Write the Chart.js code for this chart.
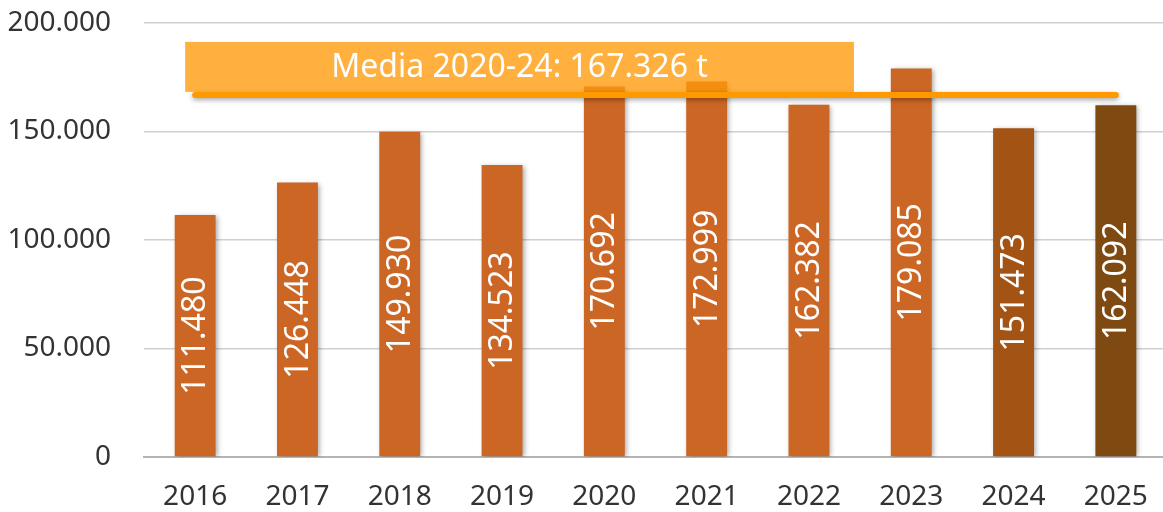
<!DOCTYPE html>
<html>
<head>
<meta charset="utf-8">
<script src="https://cdn.jsdelivr.net/npm/chart.js@4.4.1/dist/chart.umd.min.js"></script>
<style>
  html, body { margin: 0; padding: 0; background: #fff; overflow: hidden; }
  #wrap { width: 1167px; height: 512px; }
</style>
</head>
<body>
<div id="wrap"><canvas id="tons-chart"></canvas></div>
<script>
// Data
const years = ['2016', '2017', '2018', '2019', '2020', '2021', '2022', '2023', '2024', '2025'];
const tons = [111480, 126448, 149930, 134523, 170692, 172999, 162382, 179085, 151473, 162092];
const barColors = ['#CC6625', '#CC6625', '#CC6625', '#CC6625', '#CC6625',
                   '#CC6625', '#CC6625', '#CC6625', '#A35314', '#7F4A12'];
const yTicks = [0, 50000, 100000, 150000, 200000];
const average = [167326];
const averageLabel = ['Media 2020-24: 167.326 t'];

const FONT = "'Noto Sans', sans-serif";

function fmt(v) {
  return String(Math.round(v)).replace(/\B(?=(\d{3})+(?!\d))/g, '.');
}

// bar shadow + value labels
const barExtras = {
  id: 'barExtras',
  beforeDatasetsDraw(chart) {
    const ctx = chart.ctx;
    ctx.save();
    ctx.shadowColor = 'rgba(0,0,0,0.35)';
    ctx.shadowBlur = 5;
    ctx.shadowOffsetX = 2;
    ctx.shadowOffsetY = 1;
  },
  afterDatasetsDraw(chart) {
    const ctx = chart.ctx;
    ctx.restore();
    const meta = chart.getDatasetMeta(0);
    ctx.save();
    ctx.fillStyle = '#ffffff';
    ctx.font = '32px ' + FONT;
    ctx.textAlign = 'center';
    ctx.textBaseline = 'middle';
    meta.data.forEach((bar, i) => {
      const cy = (bar.y + bar.base) / 2;
      ctx.save();
      ctx.translate(bar.x, cy);
      ctx.rotate(-Math.PI / 2);
      ctx.fillText(fmt(tons[i]), 0, 1);
      ctx.restore();
    });
    ctx.restore();
  }
};

// average line with label box
const averageLine = {
  id: 'averageLine',
  afterDatasetsDraw(chart) {
    const ctx = chart.ctx;
    const x = chart.scales.x, y = chart.scales.y;
    const yy = y.getPixelForValue(average[0]) + 1;
    const x0 = x.getPixelForValue(0);
    const x1 = x.getPixelForValue(years.length - 1);

    // box
    const bx0 = x0 - 10;
    const bx1 = x.getPixelForValue(6) + 45;
    const by1 = yy - 3;
    const by0 = by1 - 50;
    ctx.save();
    ctx.fillStyle = 'rgba(255,154,9,0.78)';
    ctx.fillRect(bx0, by0, bx1 - bx0, by1 - by0);
    ctx.fillStyle = '#ffffff';
    ctx.font = '32px ' + FONT;
    ctx.textAlign = 'center';
    ctx.textBaseline = 'middle';
    ctx.fillText(averageLabel[0], (bx0 + bx1) / 2, (by0 + by1) / 2 + 1);
    ctx.restore();

    // line
    ctx.save();
    ctx.shadowColor = 'rgba(0,0,0,0.35)';
    ctx.shadowBlur = 5;
    ctx.shadowOffsetY = 2;
    ctx.strokeStyle = '#FF9900';
    ctx.lineWidth = 6;
    ctx.lineCap = 'round';
    ctx.beginPath();
    ctx.moveTo(x0, yy);
    ctx.lineTo(x1, yy);
    ctx.stroke();
    ctx.restore();
  }
};

const tonsCtx = document.getElementById('tons-chart');
new Chart(tonsCtx, {
  type: 'bar',
  data: {
    labels: years,
    datasets: [{
      data: tons,
      backgroundColor: barColors,
      categoryPercentage: 1,
      barPercentage: 0.4
    }]
  },
  options: {
    responsive: true,
    maintainAspectRatio: false,
    animation: false,
    layout: { padding: { top: 23, right: 0, bottom: 0, left: 0 } },
    plugins: { legend: { display: false }, tooltip: { enabled: false } },
    scales: {
      x: {
        afterFit(scale) {
          scale.height = 55;
          scale.paddingLeft = 0;
          scale.paddingRight = 0;
        },
        grid: { display: false, drawTicks: false },
        border: { color: '#b4b4b4', width: 2 },
        ticks: { color: '#333', font: { family: FONT, size: 28 }, padding: 23 }
      },
      y: {
        min: 0,
        max: 200000,
        afterFit(scale) {
          scale.width = 144;
          scale.paddingTop = 0;
          scale.paddingBottom = 0;
        },
        afterBuildTicks(scale) { scale.ticks = yTicks.map(v => ({ value: v })); },
        grid: { color: '#d0d0d0', lineWidth: 1.5, drawTicks: false },
        border: { display: false },
        ticks: {
          color: '#333',
          font: { family: FONT, size: 28 },
          padding: 33,
          callback: v => fmt(v)
        }
      }
    }
  },
  plugins: [barExtras, averageLine]
});
</script>
</body>
</html>
